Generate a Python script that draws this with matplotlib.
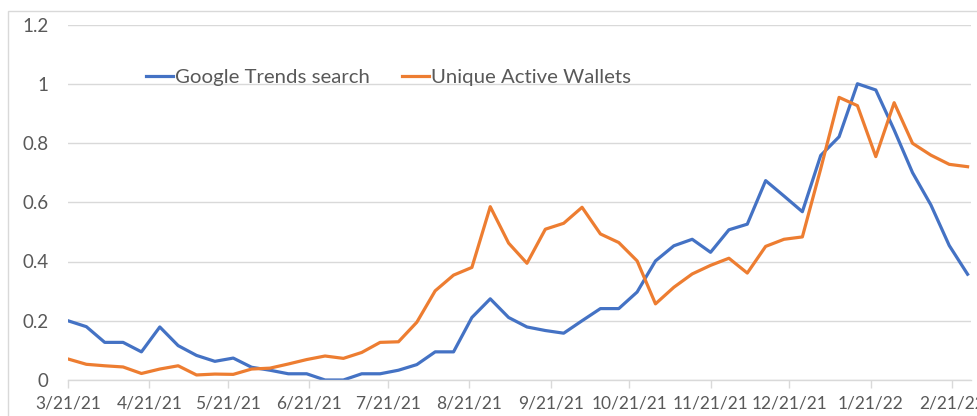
import pandas as pd
import matplotlib.pyplot as plt
from matplotlib.patches import Rectangle

# weekly series, starting 3/21/21
weeks = pd.date_range('2021-03-21', periods=50, freq='7D')

google_trends = [0.20, 0.18, 0.127, 0.127, 0.095, 0.179, 0.116, 0.083, 0.063, 0.074,
                 0.043, 0.033, 0.021, 0.021, 0.0, 0.0, 0.021, 0.021, 0.033, 0.052,
                 0.095, 0.095, 0.211, 0.274, 0.211, 0.179, 0.167, 0.158, 0.20, 0.241,
                 0.241, 0.297, 0.402, 0.453, 0.475, 0.431, 0.507, 0.526, 0.673, 0.621,
                 0.568, 0.758, 0.821, 1.0, 0.979, 0.844, 0.70, 0.591, 0.454, 0.357]

active_wallets = [0.071, 0.053, 0.048, 0.044, 0.022, 0.037, 0.048, 0.017, 0.02, 0.019,
                  0.037, 0.04, 0.054, 0.069, 0.081, 0.073, 0.093, 0.127, 0.129, 0.195,
                  0.301, 0.354, 0.38, 0.585, 0.462, 0.394, 0.509, 0.529, 0.583, 0.493,
                  0.464, 0.402, 0.257, 0.313, 0.358, 0.387, 0.411, 0.361, 0.451, 0.475,
                  0.483, 0.713, 0.954, 0.926, 0.754, 0.936, 0.799, 0.759, 0.728, 0.72]

tick_labels = ['3/21/21', '4/21/21', '5/21/21', '6/21/21', '7/21/21', '8/21/21',
               '9/21/21', '10/21/21', '11/21/21', '12/21/21', '1/21/22', '2/21/22']
tick_dates = pd.to_datetime(tick_labels, format='%m/%d/%y')

plt.rcParams['font.family'] = ['Lato', 'DejaVu Sans']
text_grey = '#595959'
grid_grey = '#d9d9d9'

fig = plt.figure(figsize=(9.78, 4.16), dpi=100)
ax = fig.add_axes([68 / 978, 36 / 416, 903 / 978, 355.5 / 416])

# light chart-area border
fig.patches.append(Rectangle((8 / 978, -0.1), 1.1, (416 - 11) / 416 + 0.1,
                             transform=fig.transFigure, fill=False,
                             edgecolor='#d9d9d9', linewidth=1))

ax.plot(weeks, google_trends, color='#4472C4', linewidth=2.3, label='Google Trends search')
ax.plot(weeks, active_wallets, color='#ED7D31', linewidth=2.3, label='Unique Active Wallets')

ax.set_ylim(0, 1.2)
ax.set_yticks([0, 0.2, 0.4, 0.6, 0.8, 1.0, 1.2])
ax.set_yticklabels(['0', '0.2', '0.4', '0.6', '0.8', '1', '1.2'])
ax.set_xlim(weeks[0], weeks[0] + pd.Timedelta(days=344.3))
ax.set_xticks(tick_dates)
ax.set_xticklabels(tick_labels)

ax.grid(axis='y', color=grid_grey, linewidth=1)
ax.set_axisbelow(True)
for side in ['top', 'right', 'left']:
    ax.spines[side].set_visible(False)
ax.spines['bottom'].set_color(grid_grey)
ax.spines['bottom'].set_linewidth(1)

ax.tick_params(axis='y', length=0, pad=14, labelsize=13.5, labelcolor=text_grey)
ax.tick_params(axis='x', length=6, width=1, color=grid_grey, pad=5,
               labelsize=12.5, labelcolor=text_grey)

ax.legend(loc='upper left', bbox_to_anchor=(0.066, 0.928), ncol=2, frameon=False,
          fontsize=14.7, labelcolor=text_grey, handlelength=1.3, handletextpad=0.1,
          columnspacing=1.6)

fig.savefig('out.png', dpi=100)
